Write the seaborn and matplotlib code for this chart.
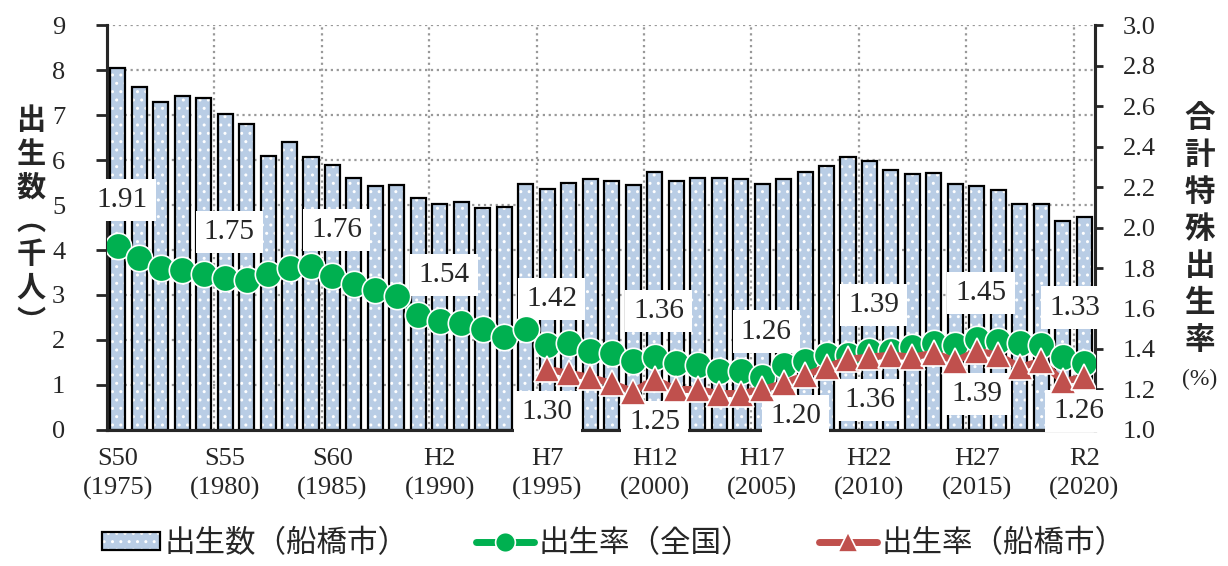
import numpy as np
import pandas as pd
import matplotlib
matplotlib.use("Agg")
import matplotlib.pyplot as plt
import seaborn as sns

# Data
years = list(range(1975, 2021))
births = [8.04, 7.62, 7.29, 7.42, 7.38, 7.02, 6.80, 6.09, 6.40, 6.07,
          5.89, 5.60, 5.42, 5.44, 5.16, 5.02, 5.07, 4.93, 4.96, 5.47,
          5.36, 5.49, 5.58, 5.53, 5.44, 5.73, 5.53, 5.60, 5.60, 5.58,
          5.47, 5.58, 5.73, 5.87, 6.07, 5.98, 5.78, 5.69, 5.71, 5.47,
          5.42, 5.33, 5.02, 5.02, 4.64, 4.73]
tfr_japan = [1.91, 1.85, 1.80, 1.79, 1.77, 1.75, 1.74, 1.77, 1.80, 1.81,
             1.76, 1.72, 1.69, 1.66, 1.57, 1.54, 1.53, 1.50, 1.46, 1.50,
             1.42, 1.43, 1.39, 1.38, 1.34, 1.36, 1.33, 1.32, 1.29, 1.29,
             1.26, 1.32, 1.34, 1.37, 1.37, 1.39, 1.39, 1.41, 1.43, 1.42,
             1.45, 1.44, 1.43, 1.42, 1.36, 1.33]
tfr_funabashi_years = list(range(1995, 2021))
tfr_funabashi = [1.30, 1.28, 1.26, 1.23, 1.19, 1.25, 1.20, 1.20, 1.18, 1.18,
                 1.20, 1.23, 1.27, 1.31, 1.35, 1.36, 1.37, 1.36, 1.38, 1.34,
                 1.39, 1.37, 1.31, 1.34, 1.24, 1.26]
tick_labels = ["S50\n(1975)", "S55\n(1980)", "S60\n(1985)", "H2\n(1990)",
               "H7\n(1995)", "H12\n(2000)", "H17\n(2005)", "H22\n(2010)",
               "H27\n(2015)", "R2\n(2020)"]

BAR_BLUE = "#B9CDE5"
GREEN = "#00B050"
RED = "#C0504D"
SERIF = "Liberation Serif"
JP = "Noto Sans CJK JP"

sns.set_style("white")
plt.rcParams["font.family"] = [SERIF, JP]
plt.rcParams["hatch.linewidth"] = 1.0

df = pd.DataFrame({"year": years, "births": births, "tfr_japan": tfr_japan})
df["pos"] = np.arange(len(df))
fb = pd.Series(tfr_funabashi, index=tfr_funabashi_years)
df["tfr_funabashi"] = df["year"].map(fb)

fig, ax = plt.subplots(figsize=(12.28, 5.66), dpi=100)
fig.subplots_adjust(left=0.0871, right=0.8917, bottom=0.2403, top=0.9558)

# bars: hatched fill, then black outline on top
sns.barplot(data=df, x="pos", y="births", color=BAR_BLUE, saturation=1,
            edgecolor="white", linewidth=0, width=0.7, ax=ax)
n = len(df)
for p in ax.patches[:n]:
    p.set_hatch("..")
sns.barplot(data=df, x="pos", y="births", fill=False, color="black",
            linewidth=1.6, width=0.7, ax=ax)

ax.set_xlim(-0.5, n - 0.5)
ax.set_ylim(0, 9)
ax.set_yticks(range(0, 10))
ax.set_xticks(range(0, n, 5), tick_labels)
ax.set_xticks(np.arange(-0.5, n, 5), minor=True)
ax.tick_params(axis="x", which="major", length=0, pad=13, labelsize=19)
ax.tick_params(axis="x", which="minor", length=9, width=2, direction="inout")
ax.tick_params(axis="y", length=8, width=2, pad=22, labelsize=19)
for lbl in ax.get_xticklabels():
    lbl.set_linespacing(1.4)
ax.set_axisbelow(True)
ax.yaxis.grid(True, linestyle=":", color="#999999", linewidth=1.6)
ax.xaxis.grid(True, which="minor", linestyle=":", color="#999999", linewidth=1.6)
ax.set_xlabel("")
ax.set_ylabel("")
for s in ["left", "bottom", "right"]:
    ax.spines[s].set_linewidth(2.2)
ax.spines["top"].set_visible(False)

# rate lines on the right axis
ax2 = ax.twinx()
sns.lineplot(data=df, x="pos", y="tfr_japan", ax=ax2, color=GREEN, linewidth=5,
             marker="o", markersize=19, markeredgecolor="white",
             markeredgewidth=1.2, zorder=4)
sns.lineplot(data=df.dropna(), x="pos", y="tfr_funabashi", ax=ax2, color=RED,
             linewidth=5, marker="^", markersize=19, markeredgecolor="white",
             markeredgewidth=1.2, zorder=5)
ax2.set_ylim(1.0, 3.0)
yt = np.arange(1.0, 3.01, 0.2)
ax2.set_yticks(yt, [f"{v:.1f}" for v in yt])
ax2.tick_params(axis="y", length=6, width=2, pad=14, labelsize=19)
ax2.set_xlim(-0.5, n - 0.5)
ax2.set_xlabel("")
ax2.set_ylabel("")
ax2.spines["top"].set_visible(False)
for s in ["left", "bottom", "right"]:
    ax2.spines[s].set_linewidth(2.2)

# value labels every 5 years
box = dict(boxstyle="square,pad=0.28", fc="white", ec="none")
green_shift = {45: (-7, 40)}
red_shift = {30: (24, -19), 45: (-4, -24)}
for i in range(0, n, 5):
    dx, dy = green_shift.get(i, (3, 33))
    ax2.annotate(f"{df.tfr_japan[i]:.2f}", (i, df.tfr_japan[i]), xytext=(dx, dy),
                 textcoords="offset points", ha="center", va="center",
                 fontsize=21, bbox=box, zorder=3, annotation_clip=False)
    v = df.tfr_funabashi[i]
    if not np.isnan(v):
        dx, dy = red_shift.get(i, (0, -31))
        ax2.annotate(f"{v:.2f}", (i, v), xytext=(dx, dy),
                     textcoords="offset points", ha="center", va="center",
                     fontsize=21, bbox=box, zorder=3, annotation_clip=False)

# axis titles (vertical writing)
fig.text(0.025, 0.61, "\n".join("出生数︵千人︶"), ha="center", va="center",
         fontsize=21, family=JP, fontweight="bold", linespacing=1.15)
fig.text(0.977, 0.595, "\n".join("合計特殊出生率"), ha="center", va="center",
         fontsize=22, family=JP, fontweight="bold", linespacing=1.2)
fig.text(0.977, 0.33, "(%)", ha="center", va="center", fontsize=17, family=SERIF)

# legend
handles = [(ax.patches[0], ax.patches[n]), ax2.get_lines()[0], ax2.get_lines()[1]]
labels = ["出生数（船橋市）", "出生率（全国）", "出生率（船橋市）"]
fig.legend(handles, labels, loc="center", bbox_to_anchor=(0.5, 0.04), ncol=3,
           frameon=False, prop={"family": JP, "size": 22}, handlelength=1.9,
           handleheight=0.5, handletextpad=0.15, columnspacing=2.2,
           markerscale=0.75, borderpad=0.1)

fig.savefig("out.png", dpi=100)
